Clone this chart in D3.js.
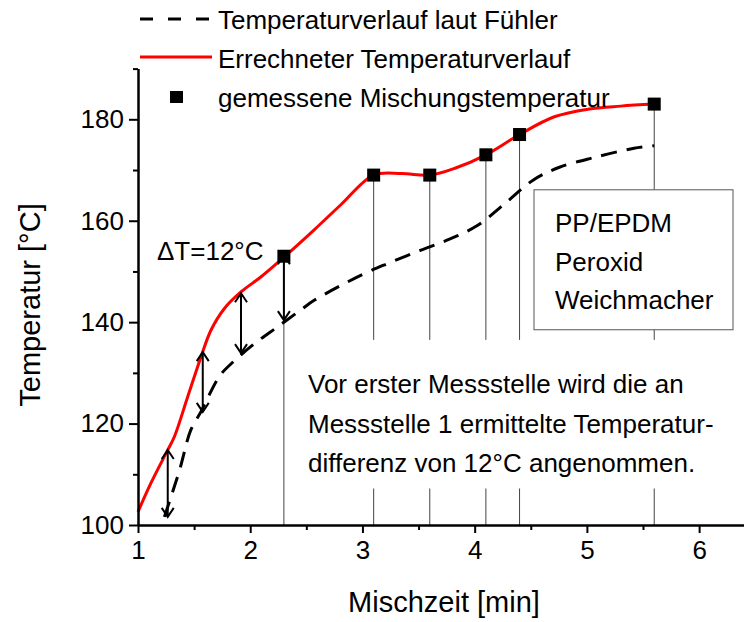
<!DOCTYPE html>
<html>
<head>
<meta charset="utf-8">
<script src="https://cdn.jsdelivr.net/npm/d3@7"></script>
<style>
  html, body { margin: 0; padding: 0; background: #fff; }
  svg { display: block; font-family: "Liberation Sans", Arial, Helvetica, sans-serif; }
</style>
</head>
<body>
<svg id="chart" width="744" height="622"></svg>
<script>
// ---------- data ----------
const xTicks = [1, 2, 3, 4, 5, 6];
const yTicks = [100, 120, 140, 160, 180];

// calculated temperature curve (red)
const calcX = [1.0, 1.116, 1.265, 1.324, 1.443, 1.562, 1.65, 1.77, 1.92, 2.1, 2.3, 2.57, 2.81, 3.1, 3.35, 3.6, 3.83, 4.1, 4.4, 4.71, 5.01, 5.3, 5.6];
const calcT = [102.6, 108.3, 114.8, 117.4, 125.3, 133.2, 138.4, 142.7, 146.0, 149.0, 152.8, 158.2, 163.2, 169.0, 169.3, 169.0, 170.4, 173.0, 177.0, 180.5, 182.0, 182.6, 183.0];

// sensor temperature curve (dashed)
const sensX = [1.235, 1.37, 1.47, 1.56, 1.725, 1.83, 2.04, 2.245, 2.45, 2.57, 3.0, 3.24, 3.51, 3.77, 4.02, 4.27, 4.52, 4.75, 5.07, 5.42, 5.6];
const sensT = [101.6, 110.8, 118.7, 122.3, 129.3, 131.8, 135.8, 139.1, 142.4, 144.3, 149.4, 151.7, 154.1, 156.3, 159.0, 163.4, 168.0, 170.5, 172.5, 174.3, 174.8];

// measured mixing temperature (squares)
const measX = [2.3, 3.1, 3.6, 4.1, 4.4, 5.6];
const measT = [153, 169, 169, 173, 177, 183];

// ΔT arrows
const arrowX = [1.265, 1.577, 1.918, 2.3];
const arrowTop = [114.8, 134.1, 145.7, 153.2];
const arrowBottom = [101.6, 122.3, 133.9, 140.4];

// gap in the drop lines (for the note text / box), in °C
const gapTop = 136.5, gapBottom = 107.2;
const boxTopT = 166.1, boxBottomT = 138.5;

const legendLabels = ["Temperaturverlauf laut Fühler", "Errechneter Temperaturverlauf", "gemessene Mischungstemperatur"];
const noteLines = ["Vor erster Messstelle wird die an", "Messstelle 1 ermittelte Temperatur-", "differenz von 12°C angenommen."];
const boxLines = ["PP/EPDM", "Peroxid", "Weichmacher"];

// ---------- drawing ----------
const svg = d3.select("#chart");
const x = d3.scaleLinear().domain([1, 6.4]).range([138, 744]);
const y = d3.scaleLinear().domain([100, 190]).range([525, 68.6]);

const calc = calcX.map((v, i) => [v, calcT[i]]);
const sens = sensX.map((v, i) => [v, sensT[i]]);
const line = d3.line().x(d => x(d[0])).y(d => y(d[1])).curve(d3.curveCatmullRom.alpha(0.5));

// drop lines
const dropG = svg.append("g").attr("stroke", "#444").attr("stroke-width", 1);
measX.forEach((mx, i) => {
  const segs = [];
  if (mx < 2.5) {
    segs.push([measT[i], 100]);
  } else if (mx > 5) {
    segs.push([measT[i], boxTopT]);
    segs.push([boxBottomT, gapTop]);
    segs.push([gapBottom, 100]);
  } else {
    segs.push([measT[i], gapTop]);
    segs.push([gapBottom, 100]);
  }
  segs.forEach(s => dropG.append("line")
    .attr("x1", x(mx)).attr("x2", x(mx))
    .attr("y1", y(s[0])).attr("y2", y(s[1])));
});

// box
svg.append("rect").attr("x", 534).attr("y", y(boxTopT)).attr("width", 199)
  .attr("height", y(boxBottomT) - y(boxTopT)).attr("fill", "#fff").attr("stroke", "#555").attr("stroke-width", 1);
boxLines.forEach((t, i) => svg.append("text").attr("x", 555).attr("y", 232 + i * 38.5)
  .attr("font-size", 26).text(t));

// curves
svg.append("path").attr("d", line(sens)).attr("fill", "none")
  .attr("stroke", "#000").attr("stroke-width", 3).attr("stroke-dasharray", "16,10");
svg.append("path").attr("d", line(calc)).attr("fill", "none")
  .attr("stroke", "#ff0000").attr("stroke-width", 3);

// arrows
const arrG = svg.append("g").attr("stroke", "#000").attr("stroke-width", 2).attr("fill", "none");
arrowX.forEach((ax, i) => {
  const px = x(ax), t = y(arrowTop[i]), b = y(arrowBottom[i]);
  arrG.append("line").attr("x1", px).attr("x2", px).attr("y1", t).attr("y2", b);
  arrG.append("path").attr("d", `M${px - 6},${t + 9}L${px},${t}L${px + 6},${t + 9}`);
  arrG.append("path").attr("d", `M${px - 6},${b - 9}L${px},${b}L${px + 6},${b - 9}`);
});

// markers
svg.append("g").selectAll("rect").data(measX).join("rect")
  .attr("x", (d) => x(d) - 6.5).attr("y", (d, i) => y(measT[i]) - 6.5)
  .attr("width", 13).attr("height", 13).attr("fill", "#000");

// axes
const xAxis = svg.append("g").attr("transform", `translate(0,${y(100)})`)
  .call(d3.axisBottom(x).tickValues(xTicks).tickFormat(d3.format("d")).tickSize(8).tickSizeOuter(0).tickPadding(8));
const xMinor = svg.append("g").attr("transform", `translate(0,${y(100)})`)
  .call(d3.axisBottom(x).tickValues([1.5, 2.5, 3.5, 4.5, 5.5]).tickFormat("").tickSize(5).tickSizeOuter(0));
const yAxis = svg.append("g").attr("transform", `translate(${x(1)},0)`)
  .call(d3.axisLeft(y).tickValues(yTicks).tickFormat(d3.format("d")).tickSize(9).tickSizeOuter(0).tickPadding(5));
const yMinor = svg.append("g").attr("transform", `translate(${x(1)},0)`)
  .call(d3.axisLeft(y).tickValues([110, 130, 150, 170, 190]).tickFormat("").tickSize(5).tickSizeOuter(0));
[xAxis, xMinor, yAxis, yMinor].forEach(g => {
  g.selectAll("path.domain").attr("stroke", "#000").attr("stroke-width", 2);
  g.selectAll(".tick line").attr("stroke", "#000").attr("stroke-width", 2);
  g.selectAll(".tick text").attr("font-size", 26).attr("fill", "#000")
    .attr("font-family", "Liberation Sans, Arial, sans-serif");
});

// axis titles
svg.append("text").attr("x", 444).attr("y", 612).attr("text-anchor", "middle")
  .attr("font-size", 29).text("Mischzeit [min]");
svg.append("text").attr("transform", `translate(40,305) rotate(-90)`).attr("text-anchor", "middle")
  .attr("font-size", 29).text("Temperatur [°C]");

// legend
const lg = svg.append("g");
lg.append("line").attr("x1", 140).attr("x2", 212).attr("y1", 19).attr("y2", 19)
  .attr("stroke", "#000").attr("stroke-width", 3).attr("stroke-dasharray", "13,15");
lg.append("line").attr("x1", 140).attr("x2", 212).attr("y1", 57).attr("y2", 57)
  .attr("stroke", "#ff0000").attr("stroke-width", 3);
lg.append("rect").attr("x", 170).attr("y", 91).attr("width", 13).attr("height", 12).attr("fill", "#000");
legendLabels.forEach((t, i) => lg.append("text").attr("x", 218).attr("y", 29 + i * 39)
  .attr("font-size", 26).text(t));

// ΔT label
svg.append("text").attr("x", 157).attr("y", 260).attr("font-size", 26).text("ΔT=12°C");

// note
noteLines.forEach((t, i) => svg.append("text").attr("x", 308).attr("y", 393 + i * 39.5)
  .attr("font-size", 26).text(t));
</script>
</body>
</html>
